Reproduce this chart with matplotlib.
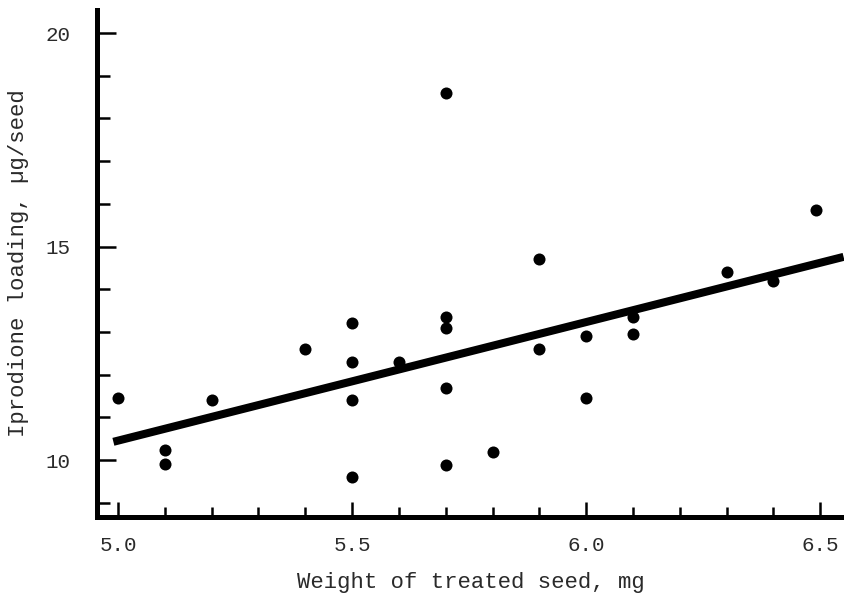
import matplotlib
matplotlib.use("Agg")
import matplotlib.pyplot as plt
import numpy as np

# Data
seed_weight = [5.0, 5.1, 5.1, 5.2, 5.4, 5.5, 5.5, 5.5, 5.5, 5.6, 5.7, 5.7, 5.7,
               5.7, 5.7, 5.8, 5.9, 5.9, 6.0, 6.0, 6.1, 6.1, 6.3, 6.4, 6.49]
iprodione = [11.45, 10.23, 9.9, 11.4, 12.6, 13.2, 12.3, 11.4, 9.6, 12.3, 18.6, 13.35,
             13.1, 11.7, 9.88, 10.2, 14.7, 12.6, 12.9, 11.45, 13.35, 12.95, 14.4, 14.2, 15.85]
fit_x = [4.99, 6.55]
fit_y = [10.43, 14.76]

x_major = [5.0, 5.5, 6.0, 6.5]
x_major_labels = ["5.0", "5.5", "6.0", "6.5"]
x_minor = [5.1, 5.2, 5.3, 5.4, 5.6, 5.7, 5.8, 5.9, 6.1, 6.2, 6.3, 6.4]
y_major = [10, 15, 20]
y_major_labels = ["10", "15", "20"]
y_minor = [9, 11, 12, 13, 14, 16, 17, 18, 19]

font = "Liberation Mono"
txt_color = "#2a2a2a"

fig = plt.figure(figsize=(8.45, 6.01), dpi=100)
ax = fig.add_axes([0.1148, 0.1398, 0.8852, 0.8436])

ax.plot(fit_x, fit_y, color="black", linewidth=5.8, solid_capstyle="butt", zorder=2)
ax.scatter(seed_weight, iprodione, s=75, color="black", zorder=3, linewidths=0)

ax.set_xlim(4.955, 6.553)
ax.set_ylim(8.67, 20.54)

for side in ("top", "right"):
    ax.spines[side].set_visible(False)
for side in ("left", "bottom"):
    ax.spines[side].set_linewidth(3.6)
    ax.spines[side].set_color("black")

ax.set_xticks(x_major)
ax.set_xticklabels(x_major_labels)
ax.set_xticks(x_minor, minor=True)
ax.set_yticks(y_major)
ax.set_yticklabels(y_major_labels)
ax.set_yticks(y_minor, minor=True)

ax.tick_params(axis="x", which="major", direction="in", length=11, width=1.8,
               pad=14, labelsize=15, labelcolor=txt_color)
ax.tick_params(axis="x", which="minor", direction="in", length=7, width=1.8)
ax.tick_params(axis="y", which="major", direction="in", length=14, width=1.8,
               pad=19, labelsize=15, labelcolor=txt_color)
ax.tick_params(axis="y", which="minor", direction="in", length=9.5, width=1.8)

for lab in ax.get_xticklabels() + ax.get_yticklabels():
    lab.set_family(font)

ax.set_xlabel("Weight of treated seed, mg", fontsize=16, family=font,
              color=txt_color, labelpad=12)
ax.set_ylabel("Iprodione loading, \u00b5g/seed", fontsize=16, family=font,
              color=txt_color, labelpad=12)

fig.savefig("out.png", dpi=100)
